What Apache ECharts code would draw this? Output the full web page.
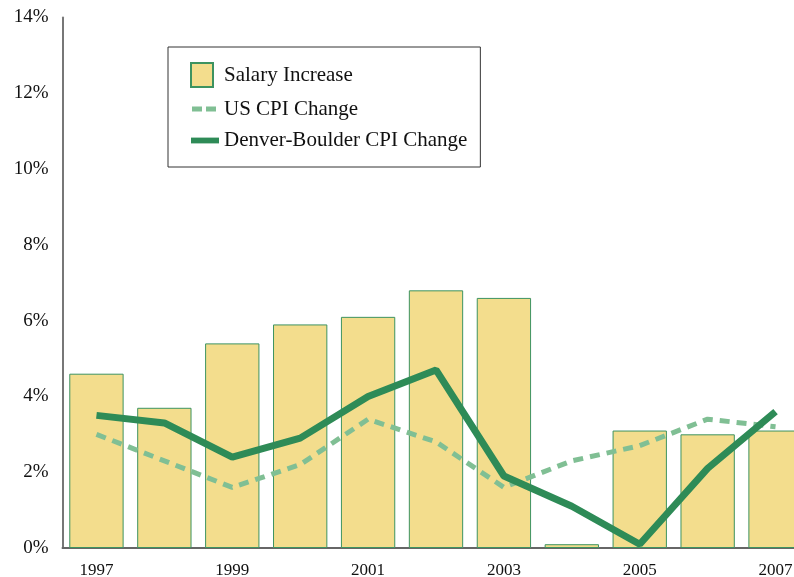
<!DOCTYPE html>
<html>
<head>
<meta charset="utf-8">
<style>
  html, body { margin: 0; padding: 0; background: #ffffff; }
  #chart { width: 794px; height: 577px; }
</style>
<script src="https://cdn.jsdelivr.net/npm/echarts@6/dist/echarts.min.js"></script>
</head>
<body>
<div id="chart"></div>
<script>
// Annual salary increase compared with consumer price inflation, 1997-2007
var years = ['1997', '1998', '1999', '2000', '2001', '2002', '2003', '2004', '2005', '2006', '2007'];
var salaryIncrease = [4.6, 3.7, 5.4, 5.9, 6.1, 6.8, 6.6, 0.1, 3.1, 3.0, 3.1];
var usCpiChange = [3.0, 2.3, 1.6, 2.2, 3.4, 2.8, 1.6, 2.3, 2.7, 3.4, 3.2];
var denverBoulderCpiChange = [3.5, 3.3, 2.4, 2.9, 4.0, 4.7, 1.9, 1.1, 0.1, 2.1, 3.6];
var yTicks = [0, 2, 4, 6, 8, 10, 12, 14];

var FONT = '"Liberation Serif", "DejaVu Serif", serif';
var BAR_FILL = '#f3dd8d';
var BAR_EDGE = '#3d9360';
var DARK_GREEN = '#2e8b57';
var LIGHT_GREEN = '#80bf94';

// Legend glyphs: a filled swatch, a pair of dashes and a solid stroke.
// Zero-length subpaths at the far corners keep every glyph the same width.
var ICON_SWATCH = 'path://M0,0 L22,0 L22,24 L0,24 Z M28,24 L28,24';
var ICON_DASHED = 'path://M1,0 L11,0 L11,5 L1,5 Z M15,0 L25,0 L25,5 L15,5 Z M0,0 L0,0 M28,5 L28,5';
var ICON_SOLID = 'path://M0,0 L29,0 L29,6 L0,6 Z';

var chart = echarts.init(document.getElementById('chart'), null, { renderer: 'canvas' });

chart.setOption({
  backgroundColor: '#ffffff',
  animation: false,
  textStyle: { fontFamily: FONT },
  grid: {
    left: 62.5,
    top: 17.5,
    width: 747,
    height: 530.5,
    containLabel: false,
    outerBoundsMode: 'none'
  },
  legend: {
    orient: 'vertical',
    left: 168,
    top: 47,
    padding: [15, 13, 16, 22],
    itemGap: 10.5,
    itemWidth: 28,
    itemHeight: 24,
    backgroundColor: '#ffffff',
    borderColor: '#333333',
    borderWidth: 1,
    borderRadius: 0,
    textStyle: { fontFamily: FONT, fontSize: 21, color: '#111111' },
    data: [
      { name: 'Salary Increase', icon: ICON_SWATCH },
      { name: 'US CPI Change', icon: ICON_DASHED },
      { name: 'Denver-Boulder CPI Change', icon: ICON_SOLID }
    ]
  },
  xAxis: {
    type: 'category',
    data: years,
    boundaryGap: true,
    axisLine: { lineStyle: { color: '#666666', width: 2 } },
    axisTick: { show: false },
    axisLabel: {
      interval: 1,
      fontFamily: FONT,
      fontSize: 17,
      color: '#111111',
      margin: 14
    },
    splitLine: { show: false }
  },
  yAxis: {
    type: 'value',
    min: 0,
    max: 14,
    interval: 2,
    axisLine: { show: true, lineStyle: { color: '#777777', width: 2 } },
    axisTick: { show: false },
    splitLine: { show: false },
    axisLabel: {
      fontFamily: FONT,
      fontSize: 19,
      color: '#111111',
      margin: 14,
      formatter: function (v) { return yTicks.indexOf(v) >= 0 ? v + '%' : ''; }
    }
  },
  series: [
    {
      name: 'Salary Increase',
      type: 'bar',
      data: salaryIncrease,
      barCategoryGap: '20%',
      itemStyle: { color: BAR_FILL, borderColor: BAR_EDGE, borderWidth: 1 },
      z: 1
    },
    {
      name: 'US CPI Change',
      type: 'line',
      data: usCpiChange,
      symbol: 'none',
      color: LIGHT_GREEN,
      itemStyle: { color: LIGHT_GREEN },
      lineStyle: { color: LIGHT_GREEN, width: 5, type: [10, 7] },
      z: 3
    },
    {
      name: 'Denver-Boulder CPI Change',
      type: 'line',
      data: denverBoulderCpiChange,
      symbol: 'none',
      color: DARK_GREEN,
      itemStyle: { color: DARK_GREEN },
      lineStyle: { color: DARK_GREEN, width: 7 },
      z: 4
    }
  ]
});
</script>
</body>
</html>
